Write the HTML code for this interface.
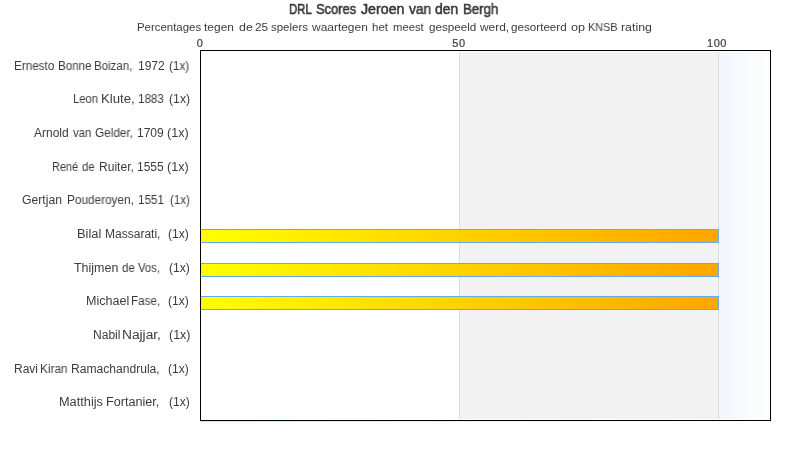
<!DOCTYPE html>
<html><head><meta charset="utf-8">
<style>
html,body{margin:0;padding:0;background:#fff;}
body{width:790px;height:450px;position:relative;overflow:hidden;font-family:"Liberation Sans",sans-serif;color:#3c3c3c;}
.t{position:absolute;white-space:pre;line-height:1;will-change:transform;}
#title{display:none;left:0px;width:788px;text-align:center;top:2.4px;font-size:14px;font-weight:normal;-webkit-text-stroke:0.5px #363636;color:#363636;letter-spacing:0px;transform:scaleX(0.962);transform-origin:394px 0;}
#sub{left:0.6px;width:788px;text-align:center;top:21.5px;font-size:11.3px;letter-spacing:0.24px;}
.tw{top:2.4px;font-size:14px;-webkit-text-stroke:0.5px #363636;color:#363636;transform-origin:0 0;}
.sw{top:21.5px;font-size:11.3px;transform-origin:0 0;}
.lw{font-size:12px;transform-origin:0 0;}
.tick{font-size:11px;width:40px;text-align:center;top:38px;letter-spacing:0.6px;-webkit-text-stroke:0.2px #3c3c3c;}
.lab{right:600px;font-size:12px;text-align:right;}
#frame{position:absolute;left:200px;top:50px;width:569px;height:369px;border:1px solid #000;z-index:2;}
#shadow{position:absolute;left:200px;top:421px;width:571px;height:1px;background:linear-gradient(to right,#c6e8f7,#e6f5fb 50%,#fff 90%);}
#band{position:absolute;left:459px;top:52px;width:259px;height:367px;background:#f2f2f2;border-left:1px solid #ddd;box-sizing:border-box;}
#band2{position:absolute;left:718px;top:52px;width:52px;height:367px;background:linear-gradient(to right,#f1f7fe,#fff);border-left:1px solid #ddd;box-sizing:border-box;}
.bar{position:absolute;z-index:1;left:200px;width:517px;height:12px;border:1px solid #66aaee;background:linear-gradient(to right,#ffff00,#ffa500);}
</style></head><body>
<div id="band"></div>
<div id="band2"></div>
<div id="frame"></div>
<div id="shadow"></div>
<div class="bar" style="top:229.0px"></div>
<div class="bar" style="top:262.6px"></div>
<div class="bar" style="top:296.2px"></div>
<div class="t tw" style="left:289.09px;transform:scaleX(0.8111);-webkit-text-stroke-width:0.616px">DRL</div>
<div class="t tw" style="left:315.90px;transform:scaleX(0.9233);-webkit-text-stroke-width:0.542px">Scores</div>
<div class="t tw" style="left:361.20px;transform:scaleX(1.0167);-webkit-text-stroke-width:0.492px">Jeroen</div>
<div class="t tw" style="left:408.80px;transform:scaleX(0.9818);-webkit-text-stroke-width:0.509px">van</div>
<div class="t tw" style="left:435.30px;transform:scaleX(0.9957);-webkit-text-stroke-width:0.502px">den</div>
<div class="t tw" style="left:462.85px;transform:scaleX(0.9472);-webkit-text-stroke-width:0.528px">Bergh</div>
<div class="t sw" style="left:136.89px;transform:scaleX(1.0113)">Percentages</div>
<div class="t sw" style="left:204.30px;transform:scaleX(1.0607)">tegen</div>
<div class="t sw" style="left:238.90px;transform:scaleX(1.1000)">de</div>
<div class="t sw" style="left:254.90px;transform:scaleX(1.0417)">25</div>
<div class="t sw" style="left:271.30px;transform:scaleX(1.0139)">spelers</div>
<div class="t sw" style="left:312.30px;transform:scaleX(1.0577)">waartegen</div>
<div class="t sw" style="left:371.90px;transform:scaleX(1.0188)">het</div>
<div class="t sw" style="left:392.70px;transform:scaleX(0.9968)">meest</div>
<div class="t sw" style="left:428.50px;transform:scaleX(1.0311)">gespeeld</div>
<div class="t sw" style="left:479.60px;transform:scaleX(1.0556)">werd,</div>
<div class="t sw" style="left:511.30px;transform:scaleX(1.0315)">gesorteerd</div>
<div class="t sw" style="left:571.40px;transform:scaleX(1.1167)">op</div>
<div class="t sw" style="left:587.64px;transform:scaleX(0.9586)">KNSB</div>
<div class="t sw" style="left:620.60px;transform:scaleX(1.0929)">rating</div>
<div class="t tick" style="left:179.6px">0</div>
<div class="t tick" style="left:438.9px">50</div>
<div class="t tick" style="left:697.4px">100</div>
<div class="t lw" style="top:60.0px;left:13.72px;transform:scaleX(0.9750)">Ernesto</div>
<div class="t lw" style="top:60.0px;left:57.73px;transform:scaleX(0.9667)">Bonne</div>
<div class="t lw" style="top:60.0px;left:94.24px;transform:scaleX(0.9579)">Boizan,</div>
<div class="t lw" style="top:60.0px;left:137.50px;transform:scaleX(1.0000)">1972</div>
<div class="t lw" style="top:60.0px;left:169.20px;transform:scaleX(0.9700)">(1x)</div>
<div class="t lw" style="top:92.9px;left:72.76px;transform:scaleX(0.9360)">Leon</div>
<div class="t lw" style="top:92.9px;left:101.00px;transform:scaleX(1.1000)">Klute,</div>
<div class="t lw" style="top:92.9px;left:138.43px;transform:scaleX(0.9680)">1883</div>
<div class="t lw" style="top:92.9px;left:168.60px;transform:scaleX(1.0200)">(1x)</div>
<div class="t lw" style="top:127.2px;left:34.10px;transform:scaleX(0.9941)">Arnold</div>
<div class="t lw" style="top:127.2px;left:72.60px;transform:scaleX(0.9421)">van</div>
<div class="t lw" style="top:127.2px;left:95.20px;transform:scaleX(0.9816)">Gelder,</div>
<div class="t lw" style="top:127.2px;left:136.61px;transform:scaleX(0.9880)">1709</div>
<div class="t lw" style="top:127.2px;left:167.40px;transform:scaleX(1.0450)">(1x)</div>
<div class="t lw" style="top:160.8px;left:51.69px;transform:scaleX(0.9111)">René</div>
<div class="t lw" style="top:160.8px;left:82.30px;transform:scaleX(0.9385)">de</div>
<div class="t lw" style="top:160.8px;left:98.59px;transform:scaleX(1.0061)">Ruiter,</div>
<div class="t lw" style="top:160.8px;left:137.20px;transform:scaleX(1.0000)">1555</div>
<div class="t lw" style="top:160.8px;left:167.40px;transform:scaleX(1.0500)">(1x)</div>
<div class="t lw" style="top:194.4px;left:22.40px;transform:scaleX(1.0179)">Gertjan</div>
<div class="t lw" style="top:194.4px;left:66.62px;transform:scaleX(0.9833)">Pouderoyen,</div>
<div class="t lw" style="top:194.4px;left:138.13px;transform:scaleX(0.9720)">1551</div>
<div class="t lw" style="top:194.4px;left:169.50px;transform:scaleX(0.9600)">(1x)</div>
<div class="t lw" style="top:228.0px;left:77.33px;transform:scaleX(1.0714)">Bilal</div>
<div class="t lw" style="top:228.0px;left:104.70px;transform:scaleX(1.0019)">Massarati,</div>
<div class="t lw" style="top:228.0px;left:167.70px;transform:scaleX(1.0050)">(1x)</div>
<div class="t lw" style="top:261.6px;left:73.50px;transform:scaleX(1.0381)">Thijmen</div>
<div class="t lw" style="top:261.6px;left:121.70px;transform:scaleX(0.9538)">de</div>
<div class="t lw" style="top:261.6px;left:138.00px;transform:scaleX(0.9391)">Vos,</div>
<div class="t lw" style="top:261.6px;left:168.80px;transform:scaleX(1.0050)">(1x)</div>
<div class="t lw" style="top:295.2px;left:85.86px;transform:scaleX(1.0450)">Michael</div>
<div class="t lw" style="top:295.2px;left:131.13px;transform:scaleX(0.9714)">Fase,</div>
<div class="t lw" style="top:295.2px;left:167.70px;transform:scaleX(1.0050)">(1x)</div>
<div class="t lw" style="top:328.8px;left:92.50px;transform:scaleX(1.0038)">Nabil</div>
<div class="t lw" style="top:328.8px;left:122.36px;transform:scaleX(1.1437)">Najjar,</div>
<div class="t lw" style="top:328.8px;left:168.60px;transform:scaleX(1.0400)">(1x)</div>
<div class="t lw" style="top:363.0px;left:13.70px;transform:scaleX(0.9955)">Ravi</div>
<div class="t lw" style="top:363.0px;left:40.22px;transform:scaleX(0.9808)">Kiran</div>
<div class="t lw" style="top:363.0px;left:71.39px;transform:scaleX(1.0070)">Ramachandrula,</div>
<div class="t lw" style="top:363.0px;left:168.10px;transform:scaleX(0.9900)">(1x)</div>
<div class="t lw" style="top:396.0px;left:59.24px;transform:scaleX(1.0625)">Matthijs</div>
<div class="t lw" style="top:396.0px;left:106.25px;transform:scaleX(1.0531)">Fortanier,</div>
<div class="t lw" style="top:396.0px;left:168.80px;transform:scaleX(1.0050)">(1x)</div>
</body></html>
